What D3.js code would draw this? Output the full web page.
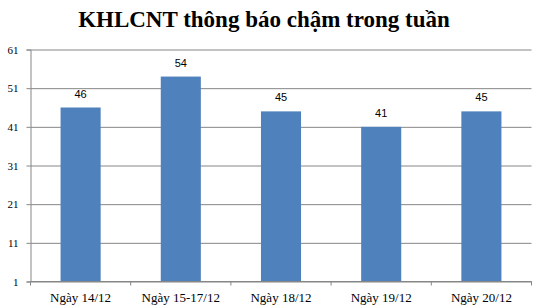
<!DOCTYPE html>
<html>
<head>
<meta charset="utf-8">
<script src="https://cdn.jsdelivr.net/npm/d3@7"></script>
<style>
  body { margin: 0; background: #fff; }
  svg { display: block; }
</style>
</head>
<body>
<svg width="539" height="308"></svg>
<script>
// Data:
const days = ['Ngày 14/12', 'Ngày 15-17/12', 'Ngày 18/12', 'Ngày 19/12', 'Ngày 20/12']
const counts = [46, 54, 45, 41, 45]
const yTicks = [1, 11, 21, 31, 41, 51, 61]

const drawChart = () => {
  const barBlue = '#4f81bd',
    gridGray = '#868686'

  let xPixelMin = 30.5
  let xPixelMax = 531.5
  let yPixelMin = 49.5
  let yPixelMax = 281.5

  const svg = d3.select('svg')

  // Title:
  svg.append('text')
    .attr('x', 264)
    .attr('y', 27)
    .attr('text-anchor', 'middle')
    .style('font-family', '"Liberation Serif", "Times New Roman", serif')
    .style('font-weight', 'bold')
    .style('font-size', '23px')
    .style('fill', '#000')
    .text('KHLCNT thông báo chậm trong tuần')

  // Scales:
  let xScale = d3.scaleBand().domain(days).range([xPixelMin, xPixelMax]).paddingInner(0.6).paddingOuter(0.3)
  let xEdges = d3.scaleBand().domain(days).range([xPixelMin, xPixelMax])
  let yScale = d3.scaleLinear().domain([1, 61]).range([yPixelMax, yPixelMin])

  // Gridlines + y axis:
  let yAxis = d3.axisLeft(yScale)
    .tickValues(yTicks)
    .tickSize(4)
    .tickPadding(8)

  let yAxisG = svg.append('g')
    .attr('id', 'yAxisG')
    .attr('transform', `translate(${xPixelMin}, 0)`)
    .call(yAxis)

  yAxisG.select('.domain').attr('stroke', gridGray)
  yAxisG.selectAll('.tick line').attr('stroke', gridGray)
  yAxisG.selectAll('.tick')
    .append('line')
    .attr('x1', 0)
    .attr('x2', xPixelMax - xPixelMin)
    .attr('stroke', gridGray)
  yAxisG.selectAll('text')
    .style('font-family', '"Liberation Serif", "Times New Roman", serif')
    .style('font-size', '11px')
    .style('fill', '#000')

  // Bars:
  svg.selectAll('rect.bar')
    .data(counts)
    .enter()
    .append('rect')
    .attr('class', 'bar')
    .attr('x', (d, i) => xScale(days[i]))
    .attr('y', (d) => yScale(d))
    .attr('width', xScale.bandwidth())
    .attr('height', (d) => yScale(1) - yScale(d))
    .style('fill', barBlue)

  // Value labels:
  svg.selectAll('text.value')
    .data(counts)
    .enter()
    .append('text')
    .attr('class', 'value')
    .attr('x', (d, i) => xScale(days[i]) + xScale.bandwidth() / 2)
    .attr('y', (d) => yScale(d) - 10)
    .attr('text-anchor', 'middle')
    .style('font-family', '"Liberation Sans", Arial, sans-serif')
    .style('font-size', '11px')
    .style('fill', '#000')
    .text((d) => d)

  // x axis with ticks between categories:
  let xAxisG = svg.append('g')
    .attr('id', 'xAxisG')
    .attr('transform', `translate(0, ${yPixelMax})`)

  xAxisG.append('line')
    .attr('x1', xPixelMin)
    .attr('x2', xPixelMax)
    .attr('stroke', gridGray)

  xAxisG.selectAll('line.tick')
    .data(days.concat(['end']))
    .enter()
    .append('line')
    .attr('class', 'tick')
    .attr('x1', (d, i) => (i < days.length ? xEdges(d) : xPixelMax))
    .attr('x2', (d, i) => (i < days.length ? xEdges(d) : xPixelMax))
    .attr('y1', 0)
    .attr('y2', 4)
    .attr('stroke', gridGray)

  xAxisG.selectAll('text')
    .data(days)
    .enter()
    .append('text')
    .attr('x', (d) => xEdges(d) + xEdges.bandwidth() / 2)
    .attr('y', 20)
    .attr('text-anchor', 'middle')
    .style('font-family', '"Liberation Serif", "Times New Roman", serif')
    .style('font-size', '13px')
    .style('fill', '#000')
    .text((d) => d)
}

drawChart()
</script>
</body>
</html>
